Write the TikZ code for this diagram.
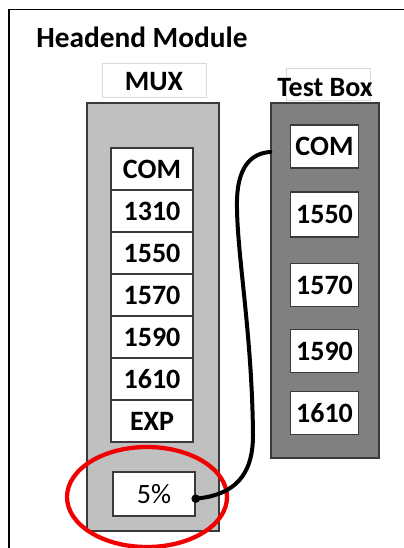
\documentclass[tikz,border=0pt]{standalone}
\usepackage{fontspec}
\setmainfont{Carlito}
\usetikzlibrary{positioning}

\definecolor{muxgray}{HTML}{C0C0C0}
\definecolor{boxgray}{HTML}{808080}
\definecolor{edgegray}{HTML}{3A3A3A}
\definecolor{taggray}{HTML}{D9D9D9}
\definecolor{ringred}{HTML}{F00000}

\tikzset{
  cell/.style={draw=edgegray, line width=1pt, fill=white, inner sep=0pt, font=\fontsize{21}{25}\selectfont\bfseries},
  muxcell/.style={cell, minimum width=61.5pt, minimum height=31.5pt},
  testcell/.style={cell, minimum width=51pt, minimum height=32pt},
  rack/.style={draw=edgegray, line width=1pt, inner sep=0pt},
  tag/.style={draw=taggray, line width=0.6pt, inner sep=0pt},
  title/.style={font=\fontsize{21}{25}\selectfont\bfseries, inner sep=0pt},
  cable/.style={line width=3pt, line cap=round},
}

\begin{document}
\begin{tikzpicture}[x=0.75pt,y=-0.75pt]
\useasboundingbox (0,0) rectangle (403,548);
%\draw[step=10,gray,very thin] (0,0) grid (403,548); %background grid
\draw[line width=1.1pt] (9,560) -- (9,9.5) -- (420,9.5); %frame
\node[title, font=\fontsize{22}{26}\selectfont\bfseries, anchor=base west] (head) at (36,48) {Headend Module};
% MUX
\node[tag, minimum width=78pt, minimum height=25.5pt] (muxtag) at (154,80) {};
\node[title, anchor=base] (muxname) at (154,90.5) {MUX};
\node[rack, fill=muxgray, minimum width=99pt, minimum height=321pt] (mux) at (153,317) {};
\node[muxcell] (mcom)  at (152,169) {COM};
\node[muxcell] (m1310) at (152,211) {1310};
\node[muxcell] (m1550) at (152,253) {1550};
\node[muxcell] (m1570) at (152,295) {1570};
\node[muxcell] (m1590) at (152,337) {1590};
\node[muxcell] (m1610) at (152,379) {1610};
\node[muxcell] (mexp)  at (152,421) {EXP};
\node[cell, font=\fontsize{21}{25}\selectfont, minimum width=61.5pt, minimum height=33pt] (pct) at (154,494) {5\%};
% Test Box
\node[tag, minimum width=63pt, minimum height=24pt] (testtag) at (328,84) {};
\node[title, anchor=base] (testname) at (325,96.5) {Test Box};
\node[rack, fill=boxgray, minimum width=81pt, minimum height=266.25pt] (test) at (325,280.5) {};
\node[testcell, minimum height=32.25pt] (tcom)  at (324.5,146.5) {COM};
\node[testcell, minimum height=33.75pt] (t1550) at (324.5,214.5) {1550};
\node[testcell] (t1570) at (324.5,285) {1570};
\node[testcell] (t1590) at (324.5,351) {1590};
\node[testcell] (t1610) at (324.5,413) {1610};
% highlight and patch cable
\draw[ringred, line width=3.2pt] (147,497) ellipse [x radius=60pt, y radius=37.5pt];
\coordinate (plug) at ([yshift=-3.5pt]pct.east);
\coordinate (jack) at (test.west |- 0,152);
\draw[cable] (plug) .. controls (235,495) and (253,475) .. (253,435)
  .. controls (252,330) and (236,250) .. (237,200)
  .. controls (238,162) and (255,153) .. (jack);
\fill (plug) circle (3.2pt);
\end{tikzpicture}
\end{document}
